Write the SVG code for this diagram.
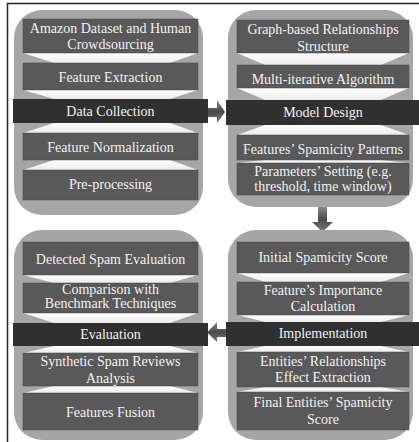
<svg xmlns="http://www.w3.org/2000/svg" width="419" height="442" viewBox="0 0 419 442">
<defs>
<style>
.panel{fill:#a6a6a6}
.box{fill:#595959;stroke:#4a4a4a;stroke-width:0.5}
.band{fill:#303030}
.gap{fill:url(#gapg)}
.t{font-family:"Liberation Serif","Times New Roman",serif;font-size:14px;fill:#f2f2f2;text-anchor:middle}
.arrow{fill:url(#arrg)}
</style>
<linearGradient id="gapg" x1="0" y1="0" x2="0" y2="1">
<stop offset="0" stop-color="#ffffff"/>
<stop offset="1" stop-color="#ececec"/>
</linearGradient>
<linearGradient id="arrg" x1="0" y1="0" x2="0" y2="1">
<stop offset="0" stop-color="#8a8a8a"/>
<stop offset="0.5" stop-color="#4a4a4a"/>
<stop offset="1" stop-color="#7a7a7a"/>
</linearGradient>
</defs>
<rect width="419" height="442" fill="#ffffff"/>
<path d="M7.5,442 V3.5 H419" fill="none" stroke="#222" stroke-width="1.5"/>

<g id="connectors">
<path class="arrow" d="M207,108 H217 V100 L225,112 L217,123 V117 H207 Z"/>
<path class="arrow" d="M318,207 V222 H312 L322.5,232 L333,222 H327 V207 Z"/>
<path class="arrow" d="M227,329 H217 V322 L207,332.5 L217,342 V337 H227 Z"/>
</g>

<g id="data-collection">
<rect class="panel" x="14" y="10" width="189" height="205" rx="28"/>
<polygon class="gap" points="23,53 198,53 170,63 54,63"/>
<polygon class="gap" points="23,90 198,90 170,99 54,99"/>
<polygon class="gap" points="54,123 170,123 198,133 23,133"/>
<polygon class="gap" points="54,160 170,160 198,170 23,170"/>
<rect class="box" x="23" y="19" width="175" height="34"/>
<rect class="box" x="23" y="63" width="175" height="27"/>
<rect class="band" x="13" y="99" width="195" height="24"/>
<rect class="box" x="23" y="133" width="175" height="27"/>
<rect class="box" x="23" y="170" width="175" height="30"/>
<text class="t" x="110.5" y="33">Amazon Dataset and Human</text>
<text class="t" x="110.5" y="49">Crowdsourcing</text>
<text class="t" x="110.5" y="82">Feature Extraction</text>
<text class="t" x="110.5" y="116">Data Collection</text>
<text class="t" x="110.5" y="152">Feature Normalization</text>
<text class="t" x="110.5" y="189">Pre-processing</text>
</g>

<g id="model-design">
<rect class="panel" x="228" y="10" width="185" height="197" rx="28"/>
<polygon class="gap" points="237,53 409,53 381,65 265,65"/>
<polygon class="gap" points="237,88 409,88 381,100 265,100"/>
<polygon class="gap" points="265,125 381,125 409,135 237,135"/>
<polygon class="gap" points="265,160 381,160 409,163 237,163"/>
<rect class="box" x="237" y="20" width="172" height="33"/>
<rect class="box" x="237" y="65" width="172" height="23"/>
<rect class="band" x="226" y="100" width="193" height="25"/>
<rect class="box" x="237" y="135" width="172" height="25"/>
<rect class="box" x="237" y="163" width="172" height="32"/>
<text class="t" x="323" y="34">Graph-based Relationships</text>
<text class="t" x="323" y="51">Structure</text>
<text class="t" x="323" y="84">Multi-iterative Algorithm</text>
<text class="t" x="323" y="117">Model Design</text>
<text class="t" x="323" y="154">Features’ Spamicity Patterns</text>
<text class="t" x="323" y="176">Parameters’ Setting (e.g.</text>
<text class="t" x="323" y="191">threshold, time window)</text>
</g>

<g id="implementation">
<rect class="panel" x="228" y="230" width="185" height="210" rx="28"/>
<polygon class="gap" points="237,273 409,273 381,282 265,282"/>
<polygon class="gap" points="237,315 409,315 381,322 265,322"/>
<polygon class="gap" points="265,346 381,346 409,352 237,352"/>
<polygon class="gap" points="265,387 381,387 409,392 237,392"/>
<rect class="box" x="237" y="242" width="172" height="31"/>
<rect class="box" x="237" y="282" width="172" height="33"/>
<rect class="band" x="226" y="322" width="193" height="24"/>
<rect class="box" x="237" y="352" width="172" height="35"/>
<rect class="box" x="237" y="392" width="172" height="38"/>
<text class="t" x="323" y="262">Initial Spamicity Score</text>
<text class="t" x="323" y="295">Feature’s Importance</text>
<text class="t" x="323" y="311">Calculation</text>
<text class="t" x="323" y="338">Implementation</text>
<text class="t" x="323" y="366">Entities’ Relationships</text>
<text class="t" x="323" y="382">Effect Extraction</text>
<text class="t" x="323" y="407">Final Entities’ Spamicity</text>
<text class="t" x="323" y="424">Score</text>
</g>

<g id="evaluation">
<rect class="panel" x="14" y="230" width="189" height="210" rx="28"/>
<polygon class="gap" points="23,275 198,275 170,283 54,283"/>
<polygon class="gap" points="23,313 198,313 170,323 54,323"/>
<polygon class="gap" points="54,346 170,346 198,353 23,353"/>
<polygon class="gap" points="54,386 170,386 198,393 23,393"/>
<rect class="box" x="23" y="242" width="175" height="33"/>
<rect class="box" x="23" y="283" width="175" height="30"/>
<rect class="band" x="13" y="323" width="195" height="23"/>
<rect class="box" x="23" y="353" width="175" height="33"/>
<rect class="box" x="23" y="393" width="175" height="37"/>
<text class="t" x="110.5" y="264">Detected Spam Evaluation</text>
<text class="t" x="110.5" y="294">Comparison with</text>
<text class="t" x="110.5" y="308">Benchmark Techniques</text>
<text class="t" x="110.5" y="339">Evaluation</text>
<text class="t" x="110.5" y="366">Synthetic Spam Reviews</text>
<text class="t" x="110.5" y="383">Analysis</text>
<text class="t" x="110.5" y="417">Features Fusion</text>
</g>
</svg>
